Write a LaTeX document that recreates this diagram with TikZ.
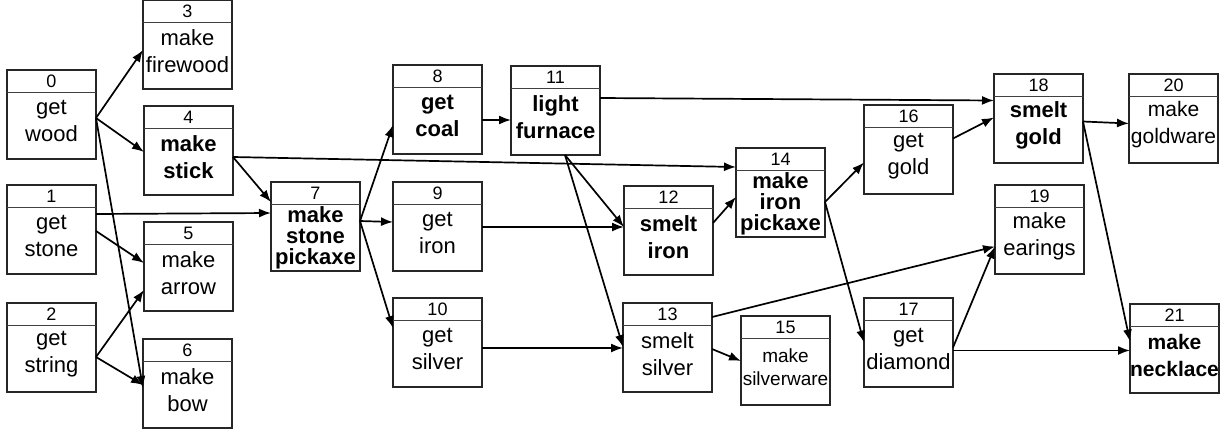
\documentclass[tikz,border=0pt]{standalone}
\usepackage{fontspec}
\setmainfont{Liberation Sans}
\usetikzlibrary{calc,arrows.meta}
\newcommand\drawbox[7]{%
  \node[box] (n#1) at (#2,#3) {};
  \draw[hline] ($(n#1.north west)+(0,22)$) -- ($(n#1.north east)+(0,22)$);
  \node[hd] (h#1) at ($(n#1.north)+(0,11.5)$) {#4};
  \node[bd,#6] (b#1) at ($(n#1.north)+(0,#7)$) {#5};
}
\begin{document}
\begin{tikzpicture}[x=1pt,y=-1pt,
  box/.style={draw=black!85, line width=1.6pt, minimum width=89pt, minimum height=89pt, inner sep=0pt, outer sep=0pt, anchor=north west},
  hline/.style={draw=black!75, line width=1pt},
  hd/.style={font=\fontsize{18}{18}\selectfont, inner sep=0pt},
  bd/.style={font=\fontsize{22}{27}\selectfont, align=center, inner sep=0pt},
  tight/.style={font=\fontsize{22}{21}\selectfont\bfseries},
  bold/.style={font=\fontsize{22}{27}\selectfont\bfseries},
  small/.style={font=\fontsize{19}{23}\selectfont},
  edge/.style={-{Latex[length=12pt,width=9pt]}, line width=1.7pt}]
\useasboundingbox (0,0) rectangle (1231,434);
\drawbox{0}{7}{70}{0}{get\\wood}{}{51}
\drawbox{1}{7}{185}{1}{get\\stone}{}{51}
\drawbox{2}{7}{303}{2}{get\\string}{}{51}
\drawbox{3}{143}{0}{3}{make\\firewood}{}{51}
\drawbox{4}{144}{106}{4}{make\\stick}{bold}{51}
\drawbox{5}{144}{222}{5}{make\\arrow}{}{51}
\drawbox{6}{143}{339}{6}{make\\bow}{}{51}
\drawbox{7}{271}{182}{7}{make\\stone\\pickaxe}{tight}{56}
\drawbox{8}{393}{65}{8}{get\\coal}{bold}{51}
\drawbox{9}{393}{182}{9}{get\\iron}{}{51}
\drawbox{10}{393}{298}{10}{get\\silver}{}{51}
\drawbox{11}{511}{66}{11}{light\\furnace}{bold}{51}
\drawbox{12}{624}{186}{12}{smelt\\iron}{bold}{51}
\drawbox{13}{623}{303}{13}{smelt\\silver}{}{51}
\drawbox{14}{736}{148}{14}{make\\iron\\pickaxe}{tight}{56}
\drawbox{15}{741}{316}{15}{make\\silverware}{small}{51}
\drawbox{16}{864}{105}{16}{get\\gold}{}{51}
\drawbox{17}{864}{298}{17}{get\\diamond}{}{51}
\drawbox{18}{994}{74}{18}{smelt\\gold}{bold}{51}
\drawbox{19}{995}{185}{19}{make\\earings}{}{51}
\drawbox{20}{1129}{74}{20}{make\\goldware}{font=\fontsize{21}{27}\selectfont}{51}
\drawbox{21}{1130}{304}{21}{make\\necklace}{font=\fontsize{21}{27}\selectfont\bfseries}{51}
% edges
\draw[edge] ([yshift=-3.5pt]n0.east) -- ([yshift=-5.5pt]n3.west);
\draw[edge] ([yshift=-3.5pt]n0.east) -- ([yshift=-1.5pt]n4.west);
\draw[edge] ([yshift=-3.5pt]n0.east) -- ([yshift=-4.5pt]n6.west);
\draw[edge] ([yshift=15.5pt]n1.east) -- ([yshift=13.5pt]n7.west);
\draw[edge] ([yshift=-1.5pt]n1.east) -- ([yshift=3.5pt]n5.west);
\draw[edge] ([yshift=-9.5pt]n2.east) -- ([yshift=-23.5pt]n5.west);
\draw[edge] ([yshift=-9.5pt]n2.east) -- ([yshift=-1.5pt]n6.west);
\draw[edge] ([yshift=-6.5pt]n4.east) -- ([yshift=24.5pt]n7.west);
\draw[edge] ([yshift=-6.5pt]n4.east) -- ([yshift=25.5pt]n14.west);
\draw[edge] ([yshift=5.5pt]n7.east) -- ([yshift=-15.5pt]n8.west);
\draw[edge] ([yshift=5.5pt]n7.east) -- ([yshift=4.5pt]n9.west);
\draw[edge] ([yshift=5.5pt]n7.east) -- ([yshift=14.5pt]n10.west);
\draw[edge] ([yshift=-10.5pt]n8.east) -- ([yshift=-9.5pt]n11.west);
\draw[edge] ([yshift=-0.5pt]n9.east) -- ([yshift=3.5pt]n12.west);
\draw[edge] ([yshift=-5.5pt]n10.east) -- ([yshift=-0.5pt]n13.west);
\draw[edge] ([yshift=12.5pt]n11.east) -- ([yshift=18pt]n18.west);
\draw[edge] ([xshift=9.5pt]n11.south) -- ([yshift=3.5pt]n12.west);
\draw[edge] ([xshift=9.5pt]n11.south) -- ([yshift=0.5pt]n13.west);
\draw[edge] ([yshift=7.5pt]n12.east) -- ([yshift=-4.5pt]n14.west);
\draw[edge] ([yshift=-1.5pt]n13.east) -- ([yshift=-0.5pt]n15.west);
\draw[edge] ([yshift=30.5pt]n13.east) -- ([yshift=-17pt]n19.west);
\draw[edge] ([yshift=-9.5pt]n14.east) -- ([yshift=-13pt]n16.west);
\draw[edge] ([yshift=-9.5pt]n14.east) -- ([yshift=0pt]n17.west);
\draw[edge] ([yshift=11pt]n16.east) -- ([yshift=1pt]n18.west);
\draw[edge] ([yshift=-5pt]n17.east) -- ([yshift=-17pt]n19.west);
\draw[edge] ([yshift=-8pt]n17.east) -- ([yshift=-2pt]n21.west);
\draw[edge] ([yshift=-3pt]n18.east) -- ([yshift=-5pt]n20.west);
\draw[edge] ([yshift=-3pt]n18.east) -- ([yshift=7pt]n21.west);
\end{tikzpicture}
\end{document}
